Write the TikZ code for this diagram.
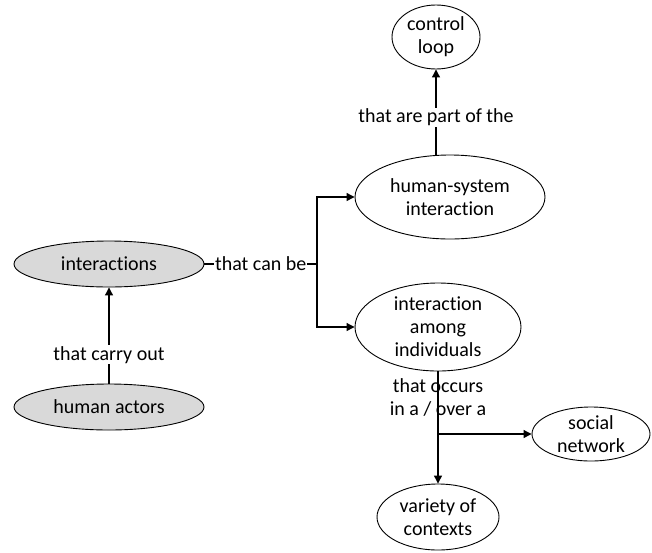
\documentclass[tikz,border=0pt]{standalone}
\usepackage{fontspec}
\setmainfont{Carlito}[Ligatures=NoCommon]
\usetikzlibrary{arrows.meta,shapes}

\definecolor{conceptgray}{RGB}{217,217,217}

\begin{document}
\begin{tikzpicture}[x=1pt,y=-1pt,
	concept/.style={draw,ellipse,inner sep=0pt,align=center,line width=.9pt},
	shaded/.style={concept,fill=conceptgray},
	lbl/.style={inner sep=1pt,align=center},
	arr/.style={-{Triangle[width=8pt,length=8pt]},line width=1.1pt},
	font=\fontsize{20}{23}\selectfont]

	\useasboundingbox (0,0) rectangle (652,552);

	\node[shaded,minimum width=190,minimum height=46] (inter) at (109,264) {interactions};
	\node[shaded,minimum width=190,minimum height=46] (actors) at (109,407) {human actors};
	\node[concept,minimum width=190,minimum height=84] (hsi) at (450,197) {human-system\\interaction};
	\node[concept,minimum width=88,minimum height=64] (loop) at (436,37) {control\\loop};
	\node[concept,minimum width=166,minimum height=88] (among) at (438,327) {interaction\\among\\individuals};
	\node[concept,minimum width=118,minimum height=54] (social) at (591,434) {social\\network};
	\node[concept,minimum width=122,minimum height=66] (contexts) at (438,517) {variety of\\contexts};

	\coordinate (split) at (317,264);
	\coordinate (branch) at (among.south |- social.west);

	\draw[arr] (actors) -- node[lbl,fill=white,pos=.3] {that carry out} (inter);
	\draw[line width=1.1pt] (inter.east) -- node[lbl,fill=white] {that can be} (split);
	\draw[arr] (split) |- (hsi.west);
	\draw[arr] (split) |- (among.west);
	\draw[arr] (loop.south |- hsi.north) -- node[lbl,fill=white,pos=.44] {that are part of the} (loop.south);
	\draw[arr] (among.south) -- node[lbl,pos=.23] {that occurs\\in a / over a} (contexts.north);
	\draw[arr] (branch) -- (social.west);

\end{tikzpicture}
\end{document}
